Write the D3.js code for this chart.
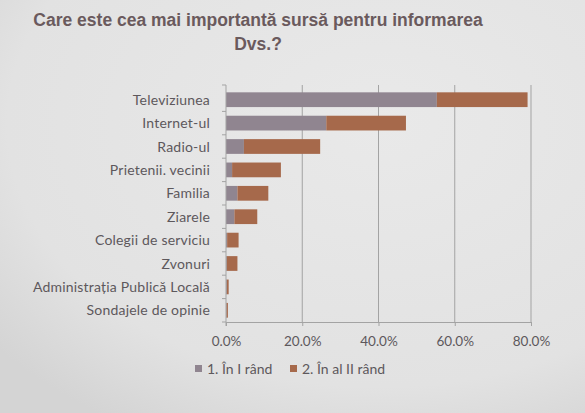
<!DOCTYPE html>
<html>
<head>
<meta charset="utf-8">
<script src="https://cdn.jsdelivr.net/npm/d3@7"></script>
<style>
  body { margin: 0; background: #e2e2e2; }
  svg { display: block; }
</style>
</head>
<body>
<script>
// data (percent)
var categories = ["Televiziunea", "Internet-ul", "Radio-ul", "Prietenii. vecinii", "Familia",
  "Ziarele", "Colegii de serviciu", "Zvonuri", "Administrația Publică Locală", "Sondajele de opinie"];
var firstRank = [55.3, 26.3, 4.7, 1.6, 3.0, 2.2, 0.3, 0.2, 0.2, 0.1];
var secondRank = [23.8, 20.9, 20.0, 12.8, 8.1, 6.0, 3.0, 2.8, 0.5, 0.4];
var seriesNames = ["1. În I rând", "2. În al II rând"];
var xTicks = [0, 20, 40, 60, 80];

var w = 585;
var h = 413;

var svg = d3.select("body")
    .append("svg")
    .attr("width", w)
    .attr("height", h);

// projected slide background, slightly uneven light
var defs = svg.append("defs");
var grad = defs.append("radialGradient")
    .attr("id", "bg")
    .attr("cx", "65%").attr("cy", "30%").attr("r", "85%");
grad.append("stop").attr("offset", "0%").attr("stop-color", "#e9e9e9");
grad.append("stop").attr("offset", "75%").attr("stop-color", "#e2e2e2");
grad.append("stop").attr("offset", "100%").attr("stop-color", "#d4d4d4");
svg.append("rect")
    .attr("width", w).attr("height", h)
    .attr("fill", "url(#bg)");

// title
var title = svg.append("text")
    .attr("x", 258)
    .attr("text-anchor", "middle")
    .style("font-family", "Liberation Sans, Arial, sans-serif")
    .style("font-weight", "bold")
    .style("font-size", "17.5px")
    .style("fill", "#6a5a5d");
title.append("tspan").attr("x", 258).attr("y", 26)
    .text("Care este cea mai importantă sursă pentru informarea");
title.append("tspan").attr("x", 258).attr("y", 50).text("Dvs.?");

var plotLeft = 226, plotRight = 531, plotTop = 88, plotBottom = 322;

var xScale = d3.scaleLinear()
    .domain([0, 80])
    .range([plotLeft, plotRight]);

var yScale = d3.scaleBand()
    .domain(categories)
    .range([plotTop, plotBottom])
    .paddingInner(0.37)
    .paddingOuter(0.185);

var color = d3.scaleOrdinal()
    .domain(seriesNames)
    .range(["#908590", "#a6694b"]);

var font = "Lato, 'Open Sans', sans-serif";
var textColor = "#5d585c";

// vertical gridlines
svg.append("g")
  .selectAll("line")
  .data(xTicks.slice(1))
  .enter()
  .append("line")
    .attr("x1", function(d) { return xScale(d); })
    .attr("x2", function(d) { return xScale(d); })
    .attr("y1", plotTop - 3)
    .attr("y2", plotBottom)
    .attr("stroke", "#a3a3a3")
    .attr("stroke-width", 1);

// stacked bars
var stackData = categories.map(function(c, i) {
  var o = { cat: c };
  o[seriesNames[0]] = firstRank[i];
  o[seriesNames[1]] = secondRank[i];
  return o;
});
var stacked = d3.stack().keys(seriesNames)(stackData);

svg.append("g")
  .selectAll("g")
  .data(stacked)
  .enter()
  .append("g")
    .attr("fill", function(d) { return color(d.key); })
  .selectAll("rect")
  .data(function(d) { return d; })
  .enter()
  .append("rect")
    .attr("x", function(d) { return xScale(d[0]); })
    .attr("width", function(d) { return xScale(d[1]) - xScale(d[0]); })
    .attr("y", function(d) { return yScale(d.data.cat); })
    .attr("height", yScale.bandwidth());

// y axis with tick marks between categories
var yAxisG = svg.append("g");
yAxisG.append("line")
    .attr("x1", plotLeft).attr("x2", plotLeft)
    .attr("y1", plotTop - 3).attr("y2", plotBottom + 4)
    .attr("stroke", "#a3a3a3");
var step = yScale.step();
yAxisG.selectAll(".tk")
  .data(d3.range(categories.length + 1))
  .enter()
  .append("line")
    .attr("class", "tk")
    .attr("x1", plotLeft - 4).attr("x2", plotLeft)
    .attr("y1", function(i) { return plotTop + i * step - (i === 0 ? 3 : 0); })
    .attr("y2", function(i) { return plotTop + i * step - (i === 0 ? 3 : 0); })
    .attr("stroke", "#a3a3a3");

yAxisG.selectAll(".lbl")
  .data(categories)
  .enter()
  .append("text")
    .attr("class", "lbl")
    .attr("x", 210)
    .attr("y", function(d) { return yScale(d) + yScale.bandwidth() / 2 + 5; })
    .attr("text-anchor", "end")
    .style("font-family", font)
    .style("font-size", "14px")
    .style("letter-spacing", "0.2px")
    .style("fill", textColor)
    .text(function(d) { return d; });

// x axis
var xAxis = d3.axisBottom(xScale)
    .tickValues(xTicks)
    .tickSize(4)
    .tickFormat(function(d) { return d3.format(".1f")(d) + "%"; });

var gX = svg.append("g")
    .attr("transform", "translate(0," + plotBottom + ")")
    .call(xAxis);
gX.select(".domain").attr("stroke", "#a3a3a3");
gX.selectAll(".tick line").attr("stroke", "#a3a3a3");
gX.selectAll(".tick text")
    .attr("dy", "1.25em")
    .style("font-family", font)
    .style("font-size", "13.5px")
    .style("fill", textColor);

// legend
var legendX = [195, 290];
var legend = svg.append("g")
  .selectAll("g")
  .data(seriesNames)
  .enter()
  .append("g")
    .attr("transform", function(d, i) { return "translate(" + legendX[i] + ",369)"; });
legend.append("rect")
    .attr("x", 0).attr("y", -4)
    .attr("width", 7).attr("height", 7)
    .attr("fill", function(d) { return color(d); });
legend.append("text")
    .attr("x", 12).attr("y", 5)
    .style("font-family", font)
    .style("font-size", "14px")
    .style("fill", textColor)
    .text(function(d) { return d; });
</script>
</body>
</html>
